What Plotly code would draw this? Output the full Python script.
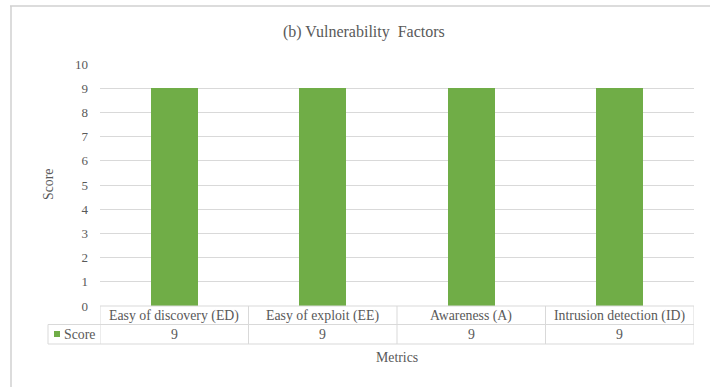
import plotly.graph_objects as go

# Chart data
metrics = ["Easy of discovery (ED)", "Easy of exploit (EE)", "Awareness (A)", "Intrusion detection (ID)"]
scores = [9, 9, 9, 9]
y_ticks = [0, 1, 2, 3, 4, 5, 6, 7, 8, 9, 10]
series_name = "Score"

W, H = 710, 387
L, R, T, B = 100, 16, 64, 81
PW = W - L - R
PH = H - T - B

GREEN = "#70ad47"
GRID = "#d9d9d9"
TXT = "#595959"
FONT = "Liberation Serif, Times New Roman, serif"


def px_x(x):
    return (x - L) / PW


def px_y(y):
    return (H - B - y) / PH


def label(x, y, text, size=13.8, xref="paper", xanchor="center", angle=0):
    return dict(xref=xref, yref="paper", x=x, y=y, text=text, showarrow=False,
                xanchor=xanchor, yanchor="middle", textangle=angle,
                font=dict(family=FONT, size=size, color=TXT))


fig = go.Figure()
fig.add_trace(go.Bar(
    x=list(range(len(metrics))), y=scores, name=series_name,
    marker=dict(color=GREEN, line=dict(width=0)), width=0.317,
    hoverinfo="skip",
))

shapes = []
annotations = []

# outer chart frame (top and left edges)
shapes.append(dict(type="line", xref="paper", yref="paper", x0=px_x(10), x1=px_x(710),
                   y0=px_y(6), y1=px_y(6), line=dict(color="#d0d0d0", width=1.5)))
shapes.append(dict(type="line", xref="paper", yref="paper", x0=px_x(11), x1=px_x(11),
                   y0=px_y(6), y1=px_y(387), line=dict(color="#d0d0d0", width=1.5)))

# data table under the axis
row1_top, row1_bot, row2_bot = 306, 324.5, 344
n = len(metrics)
shapes.append(dict(type="line", xref="paper", yref="paper", x0=0, x1=1,
                   y0=px_y(row1_top), y1=px_y(row1_top), line=dict(color=GRID, width=1)))
for yy in (row1_bot, row2_bot):
    shapes.append(dict(type="line", xref="paper", yref="paper", x0=px_x(48), x1=1,
                       y0=px_y(yy), y1=px_y(yy), line=dict(color=GRID, width=1)))
for i in range(n + 1):
    xb = i - 0.5
    shapes.append(dict(type="line", xref="x", yref="paper", x0=xb, x1=xb,
                       y0=px_y(row1_top), y1=px_y(row2_bot), line=dict(color=GRID, width=1)))
shapes.append(dict(type="line", xref="paper", yref="paper", x0=px_x(48), x1=px_x(48),
                   y0=px_y(row1_bot), y1=px_y(row2_bot), line=dict(color=GRID, width=1)))

for i, (m, s) in enumerate(zip(metrics, scores)):
    annotations.append(label(i, px_y(315.5), m, xref="x"))
    annotations.append(label(i, px_y(334), str(s), xref="x"))

# legend key inside the table
shapes.append(dict(type="rect", xref="paper", yref="paper", x0=px_x(54), x1=px_x(60),
                   y0=px_y(337), y1=px_y(331), fillcolor=GREEN, line=dict(width=0)))
annotations.append(label(px_x(62), px_y(334), series_name, xanchor="left"))

# titles
annotations.append(label(px_x(364), px_y(32), "(b) Vulnerability  Factors", size=16))
annotations.append(label(px_x(397), px_y(357), "Metrics"))
annotations.append(label(px_x(48), px_y(185), "Score", angle=-90))

fig.update_layout(
    width=W, height=H, margin=dict(l=L, r=R, t=T, b=B, autoexpand=False),
    paper_bgcolor="white", plot_bgcolor="white", showlegend=False,
    shapes=shapes, annotations=annotations, bargap=0,
    xaxis=dict(range=[-0.5, n - 0.5], showticklabels=False, showgrid=False, zeroline=False,
               showline=False, ticks="", fixedrange=True),
    yaxis=dict(range=[0, 10], tickvals=y_ticks, showgrid=True, gridcolor=GRID, gridwidth=1,
               zeroline=False, showline=False, ticks="", ticklabelstandoff=11,
               tickfont=dict(family=FONT, size=13, color=TXT), fixedrange=True),
)

fig.write_html("out.html", config={"displayModeBar": False})
